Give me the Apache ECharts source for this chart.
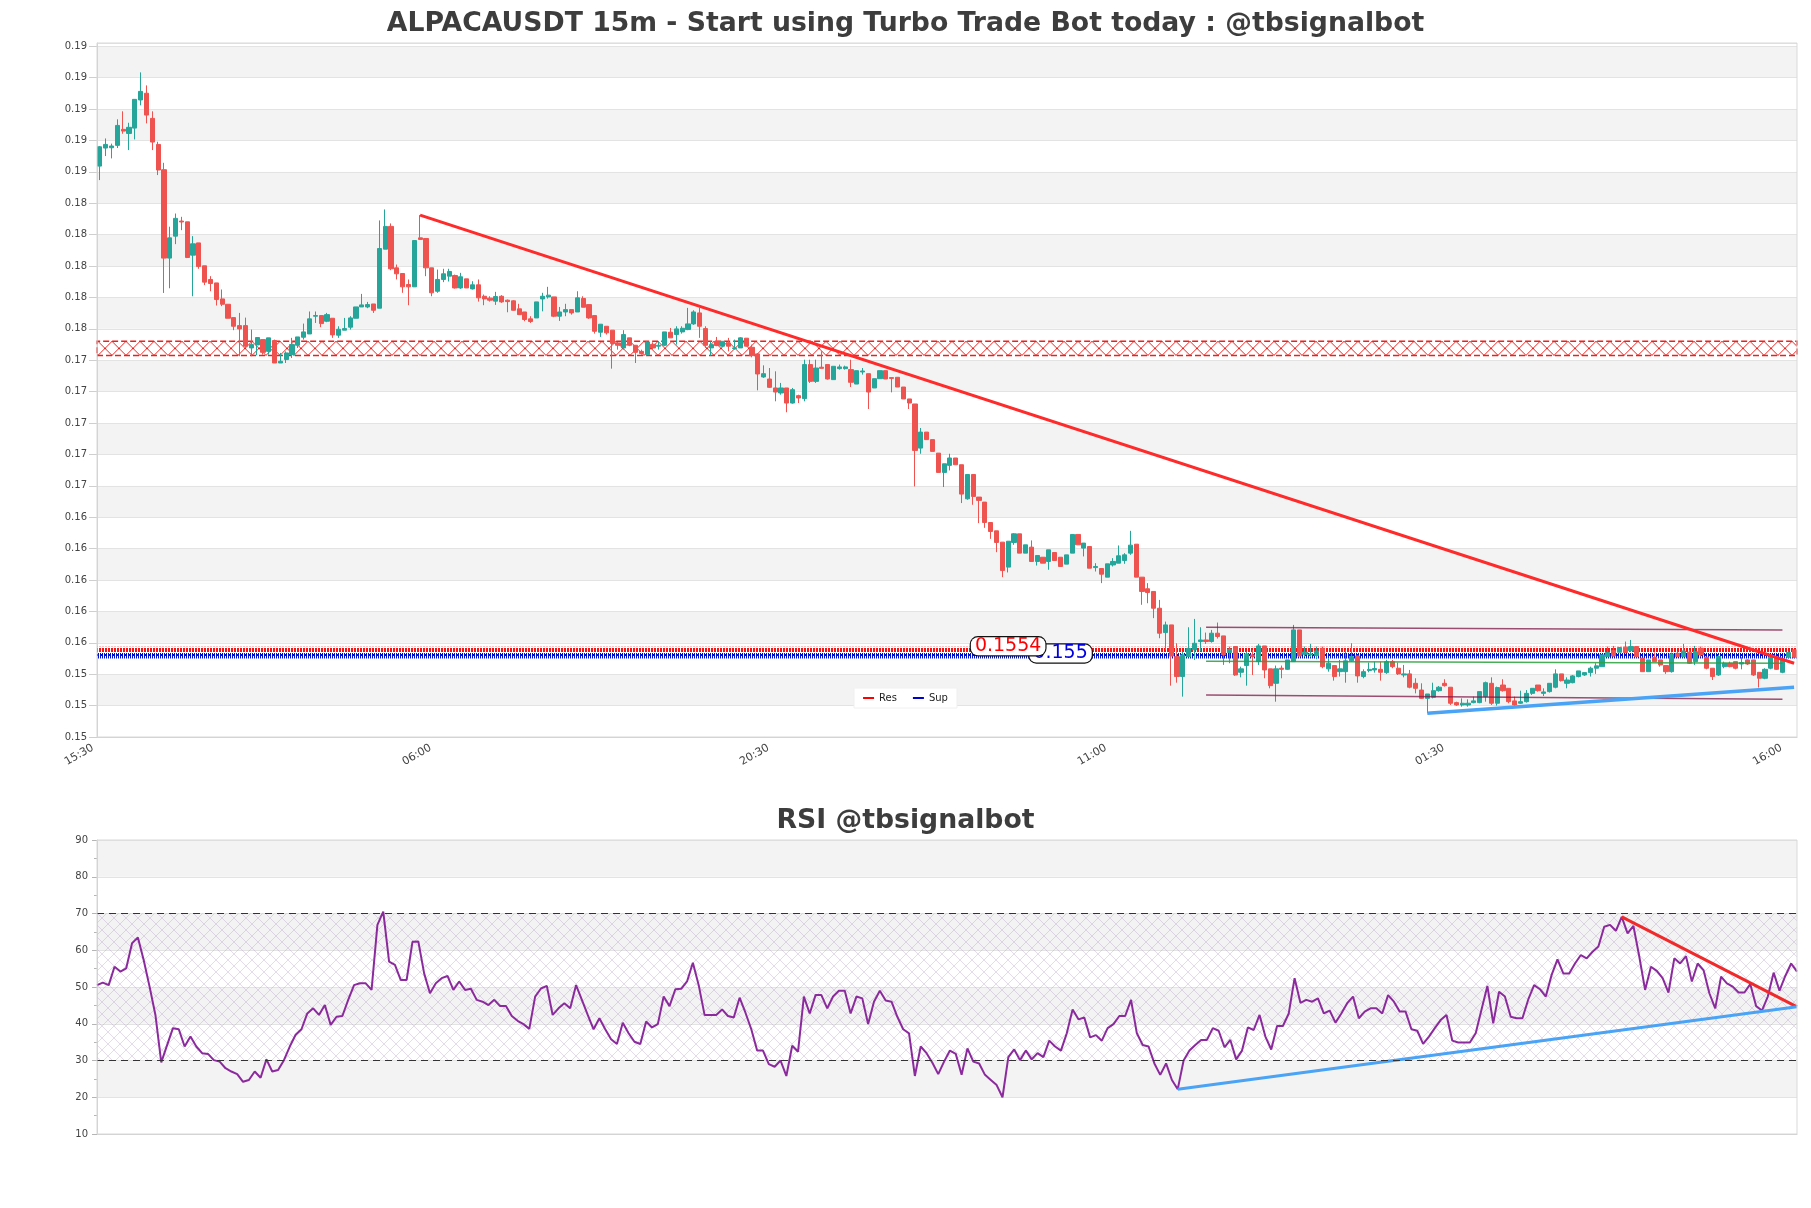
<!DOCTYPE html>
<html><head><meta charset="utf-8">
<script src="https://cdn.jsdelivr.net/npm/echarts@6/dist/echarts.min.js"></script>
<style>html,body{margin:0;padding:0;background:#fff}#c{width:1811px;height:1208px}</style>
</head><body><div id="c"></div>
<script>
// ---------------- DATA ----------------
const mainTitle = 'ALPACAUSDT 15m - Start using Turbo Trade Bot today : @tbsignalbot';
const rsiTitle = 'RSI @tbsignalbot';
const tickLabels = ['15:30','06:00','20:30','11:00','01:30','16:00'];
const barCount = 292;
const startMinutes = 15 * 60 + 30; // first bar 15:30, 15-minute bars
const categories = [];
for (let i = 0; i < barCount; i++) {
  const t = (startMinutes + 15 * i) % 1440;
  categories.push(String(Math.floor(t / 60)).padStart(2, '0') + ':' + String(t % 60).padStart(2, '0'));
}

const openP = [
.18636,.18751,.18753,.18768,.18870,.18844,.18878,.19057,.19100,.18940,
.18774,.18613,.18050,.18190,.18286,.18281,.18069,.18147,.18001,.17914,
.17892,.17790,.17756,.17671,.17620,.17620,.17478,.17497,.17531,.17456,
.17525,.17382,.17404,.17435,.17495,.17546,.17567,.17680,.17684,.17648,
.17667,.17559,.17591,.17610,.17667,.17739,.17739,.17758,.17731,.18107,
.18252,.17988,.17952,.17882,.17867,.18179,.18175,.17988,.17839,.17914,
.17935,.17939,.17860,.17918,.17854,.17880,.17807,.17795,.17776,.17807,
.17782,.17778,.17727,.17707,.17663,.17669,.17790,.17803,.17803,.17680,
.17707,.17722,.17707,.17793,.17754,.17684,.17578,.17616,.17591,.17510,
.17478,.17542,.17495,.17456,.17435,.17501,.17489,.17495,.17578,.17563,
.17580,.17595,.17631,.17701,.17601,.17478,.17520,.17489,.17510,.17474,
.17478,.17540,.17482,.17440,.17293,.17280,.17223,.17191,.17223,.17127,
.17174,.17155,.17372,.17265,.17355,.17372,.17276,.17346,.17346,.17340,
.17248,.17325,.17314,.17223,.17282,.17333,.17289,.17291,.17229,.17153,
.17121,.16840,.16942,.16894,.16808,.16685,.16730,.16777,.16734,.16517,
.16672,.16528,.16496,.16366,.16313,.16241,.16082,.16239,.16294,.16171,
.16209,.16118,.16145,.16118,.16175,.16145,.16101,.16171,.16290,.16203,
.16213,.16079,.16073,.16018,.16096,.16107,.16124,.16171,.16228,.16018,
.15944,.15927,.15820,.15665,.15714,.15512,.15385,.15512,.15555,.15608,
.15618,.15608,.15661,.15644,.15538,.15576,.15412,.15455,.15523,.15480,
.15580,.15434,.15342,.15438,.15431,.15480,.15682,.15527,.15523,.15519,
.15565,.15434,.15455,.15416,.15416,.15485,.15516,.15385,.15423,.15427,
.15431,.15410,.15480,.15438,.15395,.15402,.15342,.15299,.15246,.15253,
.15295,.15342,.15317,.15219,.15204,.15204,.15219,.15219,.15257,.15342,
.15215,.15331,.15310,.15230,.15215,.15225,.15278,.15331,.15278,.15289,
.15317,.15402,.15342,.15346,.15385,.15395,.15410,.15438,.15448,.15512,
.15550,.15540,.15572,.15550,.15576,.15502,.15416,.15508,.15491,.15455,
.15416,.15533,.15512,.15540,.15480,.15565,.15508,.15438,.15395,.15448,
.15470,.15480,.15465,.15491,.15491,.15412,.15374,.15438,.15506,.15412,
.15508,.15555];

const closeP = [
.18759,.18774,.18764,.18895,.18859,.18883,.19061,.19112,.18961,.18789,
.18611,.18050,.18179,.18303,.18280,.18054,.18141,.17996,.17897,.17888,
.17786,.17756,.17667,.17616,.17599,.17489,.17499,.17544,.17450,.17542,
.17382,.17393,.17446,.17499,.17548,.17580,.17663,.17684,.17633,.17690,
.17561,.17597,.17601,.17669,.17739,.17752,.17754,.17718,.18111,.18252,
.17982,.17950,.17867,.17867,.18162,.18169,.17988,.17829,.17914,.17950,
.17965,.17860,.17931,.17860,.17880,.17797,.17790,.17782,.17805,.17771,
.17773,.17718,.17690,.17659,.17646,.17771,.17807,.17814,.17680,.17707,
.17722,.17701,.17797,.17737,.17669,.17584,.17629,.17574,.17506,.17495,
.17563,.17495,.17450,.17442,.17516,.17478,.17495,.17580,.17542,.17599,
.17603,.17631,.17707,.17616,.17495,.17499,.17493,.17520,.17489,.17478,
.17542,.17489,.17429,.17312,.17314,.17227,.17197,.17223,.17127,.17212,
.17159,.17372,.17265,.17350,.17348,.17280,.17361,.17357,.17357,.17259,
.17333,.17331,.17197,.17282,.17333,.17280,.17284,.17229,.17153,.17127,
.16825,.16942,.16894,.16819,.16685,.16740,.16777,.16734,.16547,.16672,
.16532,.16507,.16366,.16309,.16239,.16060,.16247,.16294,.16171,.16224,
.16118,.16156,.16107,.16192,.16124,.16086,.16160,.16290,.16224,.16235,
.16075,.16086,.16037,.16103,.16118,.16154,.16160,.16222,.16018,.15927,
.15920,.15820,.15661,.15714,.15516,.15385,.15523,.15565,.15597,.15618,
.15608,.15661,.15640,.15523,.15559,.15395,.15434,.15529,.15512,.15580,
.15427,.15327,.15434,.15431,.15491,.15682,.15516,.15540,.15529,.15548,
.15448,.15470,.15385,.15434,.15485,.15512,.15389,.15416,.15431,.15436,
.15412,.15480,.15448,.15402,.15402,.15317,.15310,.15246,.15274,.15295,
.15317,.15327,.15215,.15204,.15215,.15215,.15230,.15289,.15346,.15215,
.15315,.15295,.15225,.15204,.15225,.15278,.15310,.15295,.15287,.15342,
.15402,.15359,.15363,.15389,.15421,.15410,.15438,.15453,.15523,.15538,
.15516,.15570,.15538,.15576,.15512,.15416,.15491,.15480,.15459,.15416,
.15529,.15512,.15548,.15470,.15544,.15523,.15438,.15385,.15512,.15470,
.15448,.15438,.15474,.15465,.15395,.15374,.15431,.15508,.15431,.15491,
.15538,.15508];

const lowP = [
.18547,.18700,.18685,.18751,.18842,.18738,.18806,.19023,.18908,.18738,
.18579,.17828,.17858,.18139,.18228,.18050,.17807,.17982,.17878,.17839,
.17748,.17744,.17667,.17591,.17425,.17478,.17425,.17431,.17435,.17435,
.17382,.17382,.17382,.17414,.17478,.17531,.17567,.17637,.17610,.17642,
.17542,.17542,.17591,.17595,.17667,.17739,.17731,.17701,.17731,.18107,
.17973,.17914,.17829,.17750,.17867,.18169,.17935,.17807,.17829,.17897,
.17901,.17856,.17854,.17860,.17850,.17773,.17750,.17773,.17752,.17765,
.17705,.17716,.17690,.17648,.17637,.17669,.17711,.17792,.17674,.17650,
.17680,.17690,.17707,.17737,.17663,.17569,.17548,.17563,.17346,.17467,
.17467,.17489,.17382,.17435,.17429,.17467,.17467,.17489,.17542,.17499,
.17569,.17591,.17625,.17542,.17478,.17429,.17489,.17484,.17456,.17467,
.17478,.17489,.17418,.17208,.17287,.17223,.17138,.17180,.17068,.17123,
.17127,.17138,.17255,.17255,.17348,.17276,.17276,.17340,.17340,.17229,
.17248,.17308,.17089,.17223,.17282,.17280,.17195,.17229,.17153,.17089,
.16596,.16804,.16894,.16819,.16685,.16592,.16698,.16734,.16490,.16511,
.16479,.16362,.16332,.16262,.16177,.16018,.16048,.16224,.16171,.16171,
.16118,.16092,.16107,.16065,.16124,.16086,.16101,.16171,.16224,.16150,
.16075,.16054,.15980,.16018,.16086,.16107,.16103,.16160,.16018,.15842,
.15852,.15757,.15629,.15555,.15327,.15346,.15257,.15508,.15491,.15548,
.15593,.15601,.15627,.15459,.15470,.15389,.15380,.15327,.15395,.15459,
.15374,.15310,.15225,.15374,.15427,.15480,.15512,.15512,.15508,.15495,
.15438,.15416,.15359,.15385,.15346,.15480,.15346,.15374,.15412,.15410,
.15359,.15402,.15438,.15395,.15380,.15310,.15278,.15242,.15151,.15246,
.15289,.15321,.15204,.15198,.15193,.15193,.15215,.15215,.15225,.15204,
.15200,.15289,.15215,.15193,.15210,.15219,.15268,.15289,.15261,.15283,
.15310,.15353,.15310,.15342,.15380,.15389,.15385,.15402,.15448,.15512,
.15512,.15540,.15533,.15544,.15508,.15416,.15416,.15480,.15448,.15402,
.15410,.15508,.15508,.15465,.15459,.15512,.15431,.15363,.15389,.15438,
.15444,.15431,.15431,.15459,.15389,.15315,.15368,.15431,.15427,.15406,
.15502,.15502];

const highP = [
.18764,.18812,.18779,.18934,.18985,.18912,.19061,.19233,.19150,.18985,
.18791,.18657,.18250,.18334,.18313,.18281,.18190,.18147,.18001,.17935,
.17892,.17850,.17756,.17671,.17701,.17671,.17595,.17544,.17531,.17542,
.17531,.17446,.17456,.17542,.17548,.17633,.17710,.17710,.17684,.17701,
.17667,.17616,.17669,.17680,.17739,.17822,.17771,.17758,.18290,.18360,
.18271,.18009,.17952,.17914,.18162,.18324,.18175,.17988,.17977,.17982,
.17982,.17945,.17956,.17918,.17903,.17914,.17818,.17807,.17835,.17814,
.17786,.17782,.17759,.17707,.17680,.17771,.17829,.17867,.17803,.17739,
.17759,.17722,.17839,.17807,.17754,.17684,.17629,.17616,.17591,.17516,
.17591,.17542,.17495,.17467,.17520,.17514,.17520,.17580,.17605,.17616,
.17616,.17733,.17718,.17733,.17616,.17520,.17548,.17520,.17542,.17531,
.17546,.17540,.17499,.17446,.17367,.17350,.17329,.17255,.17223,.17223,
.17180,.17403,.17403,.17403,.17457,.17372,.17361,.17372,.17365,.17403,
.17333,.17350,.17314,.17282,.17333,.17333,.17289,.17291,.17229,.17153,
.17121,.16968,.16942,.16894,.16808,.16740,.16804,.16777,.16734,.16672,
.16672,.16528,.16496,.16366,.16313,.16241,.16247,.16298,.16294,.16224,
.16252,.16156,.16145,.16192,.16175,.16145,.16160,.16290,.16290,.16235,
.16213,.16107,.16073,.16103,.16139,.16220,.16171,.16313,.16228,.16018,
.15980,.15927,.15873,.15735,.15714,.15597,.15544,.15699,.15752,.15699,
.15665,.15682,.15729,.15644,.15576,.15576,.15448,.15544,.15555,.15593,
.15580,.15434,.15455,.15455,.15491,.15714,.15682,.15576,.15593,.15576,
.15576,.15502,.15455,.15491,.15555,.15597,.15516,.15431,.15474,.15480,
.15480,.15491,.15491,.15474,.15459,.15427,.15374,.15342,.15274,.15346,
.15325,.15368,.15317,.15225,.15246,.15240,.15257,.15289,.15353,.15380,
.15321,.15368,.15310,.15257,.15295,.15299,.15310,.15331,.15310,.15342,
.15431,.15402,.15380,.15395,.15421,.15410,.15448,.15470,.15523,.15576,
.15580,.15570,.15608,.15618,.15576,.15502,.15491,.15538,.15491,.15455,
.15538,.15544,.15593,.15555,.15580,.15576,.15508,.15438,.15523,.15480,
.15480,.15480,.15508,.15495,.15491,.15412,.15438,.15512,.15506,.15502,
.15544,.15555];

const rsiVals = [
50.5,51.2,50.5,55.5,54.2,55.1,61.9,63.5,57.3,50.1,
42.4,29.5,34.2,38.8,38.5,33.8,36.5,33.8,32.0,31.8,
30.1,29.7,27.9,27.0,26.3,24.2,24.7,27.0,25.3,30.3,
27.0,27.4,30.1,33.8,37.0,38.5,42.8,44.2,42.4,45.1,
39.7,41.9,42.1,46.5,50.5,51.0,51.0,49.2,66.9,70.5,
56.9,56.0,51.9,51.9,62.3,62.4,53.7,48.3,51.0,52.4,
53.0,49.2,51.5,49.2,49.5,46.5,46.0,45.1,46.5,44.8,
44.8,42.1,40.8,39.9,38.6,47.4,49.6,50.3,42.4,44.2,
45.6,44.2,50.5,46.5,42.4,38.5,41.5,38.5,35.8,34.5,
40.3,37.4,35.1,34.5,40.6,39.0,39.9,47.4,44.8,49.4,
49.5,51.5,56.6,50.5,42.4,42.4,42.4,43.9,42.1,41.7,
47.1,43.0,38.5,32.7,32.7,29.0,28.3,30.0,25.8,34.0,
32.4,47.4,42.8,47.8,47.8,44.2,47.4,49.0,49.0,42.8,
47.4,46.9,39.9,46.0,49.0,46.3,46.0,41.9,38.5,37.4,
25.8,33.8,32.0,29.4,26.3,29.7,32.7,31.8,26.1,33.3,
29.7,29.2,26.1,24.7,23.3,20.0,30.9,33.0,30.1,32.7,
30.3,32.0,30.9,35.4,33.8,32.7,37.4,43.9,41.2,41.7,
36.3,36.9,35.4,38.8,39.9,42.1,42.1,46.5,37.4,34.2,
33.8,29.2,26.1,29.2,24.7,22.2,30.0,32.7,34.2,35.6,
35.6,38.8,38.1,33.6,35.6,30.3,32.7,39.0,38.3,42.4,
36.5,33.0,39.4,39.4,42.8,52.4,45.7,46.5,46.0,46.9,
42.8,43.6,40.3,42.8,45.6,47.4,41.5,43.3,44.2,44.2,
42.8,47.8,46.0,43.3,43.3,38.5,38.1,34.5,36.5,38.8,
41.0,42.4,35.4,34.9,34.9,34.9,37.4,43.9,50.3,40.1,
48.7,47.4,41.9,41.5,41.5,46.6,50.5,49.4,47.4,53.3,
57.5,53.7,53.7,56.4,58.7,57.8,59.6,61.0,66.4,66.9,
65.3,69.1,64.6,66.6,58.3,49.2,55.5,54.4,52.4,48.5,
57.8,56.4,58.4,51.5,56.4,54.6,48.3,44.2,52.8,51.0,
50.1,48.5,48.5,50.8,44.8,43.6,47.4,53.9,49.0,53.0,
56.4,54.2];

// levels and drawn lines (bar index, value)
const resLevel = 0.1554;
const supLevel = 0.155;
const resLabelBar = 156, supLabelBar = 165;
const zoneLow = 0.1743, zoneHigh = 0.1752;
const priceDownTrend = [[55, 0.18324], [291, 0.1547]];
const priceUpTrend = [[228, 0.15151], [291, 0.15317]];
const channelUpper = [[190, 0.15699], [289, 0.15682]];
const channelLower = [[190, 0.15268], [289, 0.15240]];
const channelMid = [[190, 0.15483], [289, 0.15470]];
const rsiDownTrend = [[261, 69.1], [291, 44.6]];
const rsiUpTrend = [[185, 22.2], [291, 44.6]];
const rsiUpper = 70, rsiLower = 30;

// ---------------- STYLE HELPERS ----------------
function makePattern(w, h, draw, extra) {
  const c = document.createElement('canvas');
  c.width = w; c.height = h;
  const ctx = c.getContext('2d');
  draw(ctx, w, h);
  return Object.assign({ image: c, repeat: 'repeat' }, extra || {});
}
function xPattern(offY) {
  return makePattern(14, 14, (ctx, w, h) => {
    ctx.strokeStyle = '#e8231f'; ctx.lineWidth = 1;
    ctx.beginPath(); ctx.moveTo(0, 0); ctx.lineTo(w, h); ctx.moveTo(w, 0); ctx.lineTo(0, h); ctx.stroke();
  }, { x: 0, y: offY || 0 });
}
const rsiHatch = makePattern(12, 12, (ctx, w, h) => {
  ctx.strokeStyle = 'rgba(165,140,185,0.30)'; ctx.lineWidth = 1;
  ctx.beginPath(); ctx.moveTo(0, 0); ctx.lineTo(w, h); ctx.moveTo(w, 0); ctx.lineTo(0, h); ctx.stroke();
});
const resPattern = makePattern(3, 5, (ctx) => {
  ctx.fillStyle = '#ff1010'; ctx.fillRect(0, 0, 2, 2); ctx.fillRect(0, 3, 2, 2);
});
const supPattern = makePattern(4, 6, (ctx) => {
  ctx.fillStyle = '#0010d0'; ctx.fillRect(0, 0, 3, 2); ctx.fillRect(0, 2, 1, 4); ctx.fillRect(2, 2, 1, 4);
});

const ohlc = openP.map((o, i) => [o, closeP[i], lowP[i], highP[i]]);
const font = 'DejaVu Sans';
const titleStyle = { fontSize: 26.7, fontWeight: 'bold', color: '#3d3d3d', fontFamily: font };
const axisLabelStyle = { fontSize: 10, color: '#444', fontFamily: font };

function lineSeries(name, data, color, width, xi, yi, z) {
  return { name, type: 'line', xAxisIndex: xi, yAxisIndex: yi, data, symbol: 'none', silent: true,
    lineStyle: { color, width }, itemStyle: { color }, z: z || 4 };
}

const chart = echarts.init(document.getElementById('c'), null, { renderer: 'canvas' });

function buildOption(zoneOffsetY) {
  return {
    animation: false,
    backgroundColor: '#ffffff',
    textStyle: { fontFamily: font },
    title: [
      { text: mainTitle, left: 'center', top: 6, textStyle: titleStyle },
      { text: rsiTitle, left: 'center', top: 803, textStyle: titleStyle }
    ],
    legend: {
      data: [
        { name: 'Res', icon: 'rect', itemStyle: { color: '#ff0000' } },
        { name: 'Sup', icon: 'rect', itemStyle: { color: '#0000cc' } }
      ],
      left: 'center', top: 688, itemWidth: 11, itemHeight: 2, itemGap: 16,
      backgroundColor: '#ffffff', padding: [5, 9], borderColor: '#f0f0f0', borderWidth: 1,
      textStyle: { fontSize: 10, color: '#222', fontFamily: font }
    },
    grid: [
      { left: 97, right: 14, top: 43, bottom: 471, show: true, borderColor: '#d9d9d9', borderWidth: 1, z: 10 },
      { left: 97, right: 14, top: 840, bottom: 74, show: true, borderColor: '#d9d9d9', borderWidth: 1, z: 10 }
    ],
    xAxis: [
      { type: 'category', gridIndex: 0, data: categories, boundaryGap: true,
        axisLine: { lineStyle: { color: '#cfcfcf' } }, axisTick: { show: false },
        axisLabel: { interval: 57, rotate: 30, margin: 6, fontSize: 11, color: '#444', fontFamily: font,
          padding: [0, 8, 0, 0] },
        splitLine: { show: false } },
      { type: 'category', gridIndex: 1, data: categories, boundaryGap: false,
        axisLine: { lineStyle: { color: '#cfcfcf' } }, axisTick: { show: false },
        axisLabel: { show: false }, splitLine: { show: false } }
    ],
    yAxis: [
      { type: 'value', gridIndex: 0, min: 0.150, max: 0.1942, interval: 0.002, scale: false,
        axisLine: { show: true, lineStyle: { color: '#cfcfcf' } },
        axisTick: { show: true, length: 8, lineStyle: { color: '#cfcfcf' } },
        axisLabel: Object.assign({ formatter: v => v.toFixed(2), showMaxLabel: false, margin: 10 }, axisLabelStyle),
        splitLine: { lineStyle: { color: '#e3e3e3' } },
        splitArea: { show: true, areaStyle: { color: ['#ffffff', '#f3f3f3'] } } },
      { type: 'value', gridIndex: 1, min: 10, max: 90, interval: 10,
        axisLine: { show: true, lineStyle: { color: '#cfcfcf' } },
        axisTick: { show: true, length: 5, lineStyle: { color: '#b5b5b5' } },
        minorTick: { show: true, splitNumber: 2, length: 3, lineStyle: { color: '#b5b5b5' } },
        axisLabel: Object.assign({ margin: 9 }, axisLabelStyle),
        splitLine: { lineStyle: { color: '#e3e3e3' } },
        splitArea: { show: true, areaStyle: { color: ['#ffffff', '#f3f3f3'] } } }
    ],
    series: [
      { name: 'Price', type: 'candlestick', xAxisIndex: 0, yAxisIndex: 0, data: ohlc, barWidth: '80%', z: 2,
        itemStyle: { color: '#26a69a', color0: '#ef5350', borderColor: '#26a69a', borderColor0: '#ef5350', borderWidth: 1 },
        markArea: { silent: true, label: { show: false },
          itemStyle: { color: xPattern(zoneOffsetY), borderColor: '#e8231f', borderWidth: 1.5, borderType: [6, 3] },
          data: [[{ yAxis: zoneLow }, { yAxis: zoneHigh }]] } },
      lineSeries('Channel upper', channelUpper, 'rgba(125,20,70,0.75)', 1.5, 0, 0, 3),
      lineSeries('Channel lower', channelLower, 'rgba(125,20,70,0.75)', 1.5, 0, 0, 3),
      lineSeries('Channel mid', channelMid, 'rgba(40,160,60,0.85)', 1.5, 0, 0, 3),
      { name: 'Sup', type: 'line', xAxisIndex: 0, yAxisIndex: 0, data: [[0, supLevel], [barCount - 1, supLevel]],
        symbol: 'none', lineStyle: { width: 0, opacity: 0 }, itemStyle: { color: '#0000cc' }, z: 5, silent: true,
        markArea: { silent: true, label: { show: false }, itemStyle: { color: supPattern },
          data: [[{ yAxis: supLevel }, { yAxis: supLevel + 0.00035 }]] },
        markPoint: { silent: true, symbol: 'circle', symbolSize: 1, itemStyle: { color: 'rgba(0,0,0,0)' },
          data: [{ coord: [supLabelBar, supLevel], value: supLevel }],
          label: { show: true, position: 'inside', formatter: () => String(supLevel), color: '#0000dd', fontSize: 19,
            fontFamily: font, backgroundColor: '#ffffff', borderColor: '#111', borderWidth: 1.2, borderRadius: 7,
            padding: [0, 4], lineHeight: 18, offset: [0, -5] } } },
      { name: 'Res', type: 'line', xAxisIndex: 0, yAxisIndex: 0, data: [[0, resLevel], [barCount - 1, resLevel]],
        symbol: 'none', lineStyle: { width: 0, opacity: 0 }, itemStyle: { color: '#ff0000' }, z: 6, silent: true,
        markArea: { silent: true, label: { show: false }, itemStyle: { color: resPattern },
          data: [[{ yAxis: resLevel }, { yAxis: resLevel + 0.00035 }]] },
        markPoint: { silent: true, symbol: 'circle', symbolSize: 1, itemStyle: { color: 'rgba(0,0,0,0)' },
          data: [{ coord: [resLabelBar, resLevel], value: resLevel }],
          label: { show: true, position: 'inside', formatter: () => String(resLevel), color: '#ff0000', fontSize: 19,
            fontFamily: font, backgroundColor: '#ffffff', borderColor: '#111', borderWidth: 1.2, borderRadius: 7,
            padding: [0, 4], lineHeight: 18, offset: [0, -6] } } },
      lineSeries('Down trend', priceDownTrend, '#ff2a2a', 3, 0, 0, 4),
      lineSeries('Up trend', priceUpTrend, '#4aa3f5', 3.5, 0, 0, 4),
      { name: 'RSI', type: 'line', xAxisIndex: 1, yAxisIndex: 1, data: rsiVals, symbol: 'none', silent: true,
        lineStyle: { color: '#8b2a9c', width: 2 }, z: 3,
        markArea: { silent: true, label: { show: false }, itemStyle: { color: rsiHatch },
          data: [[{ yAxis: rsiLower }, { yAxis: rsiUpper }]] },
        markLine: { silent: true, symbol: 'none', label: { show: false },
          lineStyle: { color: '#333', type: [7, 5], width: 1.2 },
          data: [{ yAxis: rsiUpper }, { yAxis: rsiLower }] } },
      lineSeries('RSI down trend', rsiDownTrend, '#f02a2a', 3, 1, 1, 4),
      lineSeries('RSI up trend', rsiUpTrend, '#4aa3f5', 3, 1, 1, 4)
    ]
  };
}

chart.setOption(buildOption(0));
const zoneTopPx = chart.convertToPixel({ yAxisIndex: 0 }, zoneHigh);
chart.setOption(buildOption(zoneTopPx), { notMerge: true });
</script>
</body></html>
